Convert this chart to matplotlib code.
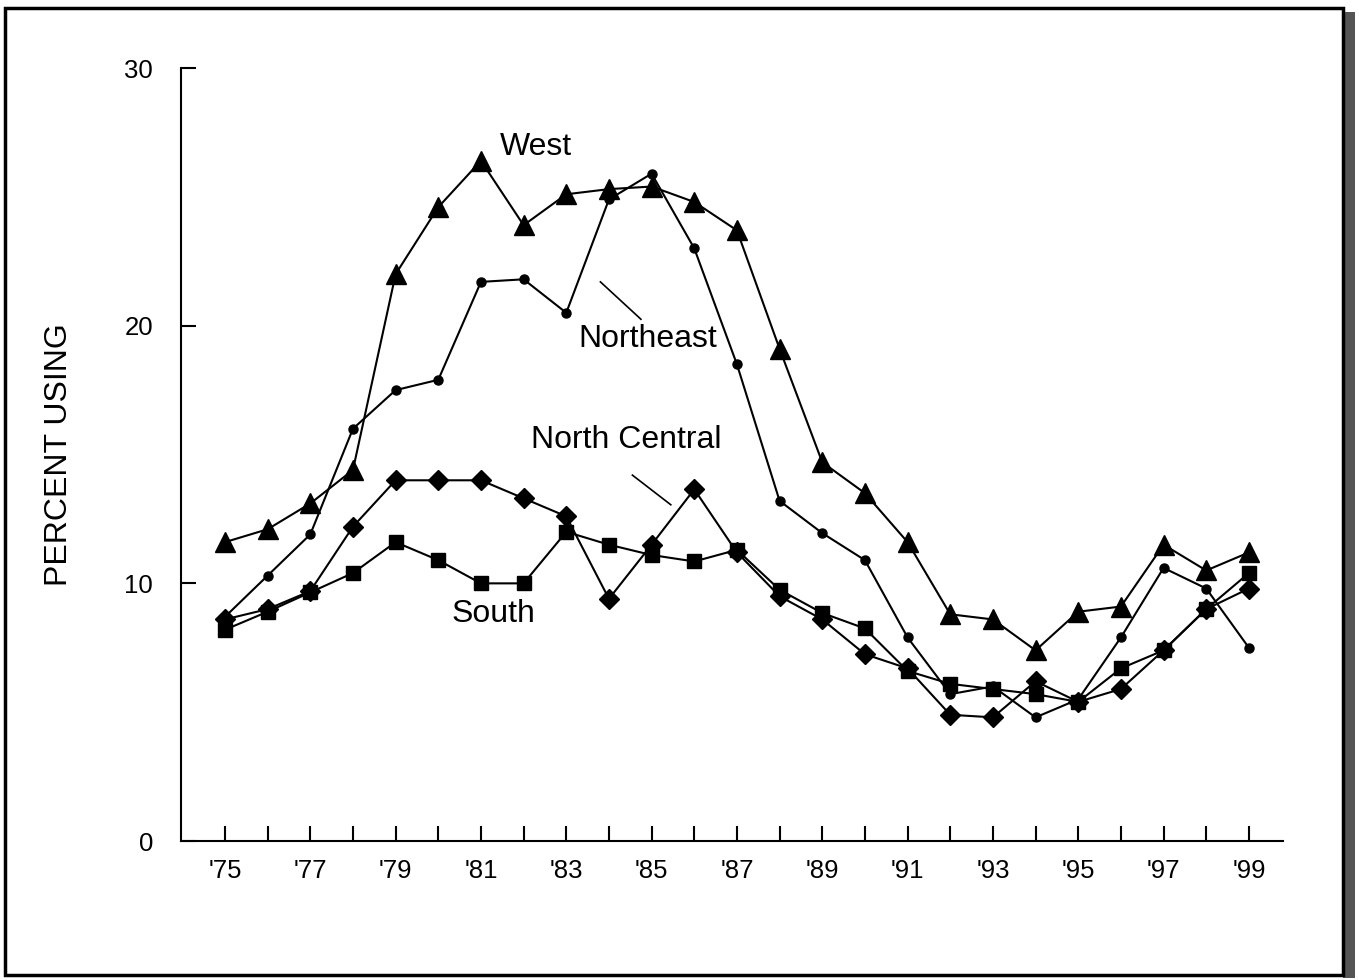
import matplotlib.pyplot as plt
from matplotlib.patches import Rectangle

plt.rcParams['font.family'] = ['Liberation Sans', 'DejaVu Sans']

annees = list(range(1975, 2000))
etiquettes = ["'75", "'77", "'79", "'81", "'83", "'85", "'87", "'89", "'91",
              "'93", "'95", "'97", "'99"]

ouest = [11.6, 12.1, 13.1, 14.4, 22.0, 24.6, 26.4, 23.9, 25.1, 25.3, 25.4, 24.8,
         23.7, 19.1, 14.7, 13.5, 11.6, 8.8, 8.6, 7.4, 8.9, 9.1, 11.5, 10.5, 11.2]
nord_est = [8.7, 10.3, 11.9, 16.0, 17.5, 17.9, 21.7, 21.8, 20.5, 24.9, 25.9, 23.0,
            18.5, 13.2, 11.95, 10.9, 7.9, 5.7, 6.0, 4.8, 5.5, 7.9, 10.6, 9.8, 7.5]
nord_central = [8.6, 9.0, 9.7, 12.2, 14.0, 14.0, 14.0, 13.3, 12.6, 9.4, 11.5, 13.65,
                11.2, 9.5, 8.6, 7.25, 6.7, 4.9, 4.8, 6.2, 5.4, 5.9, 7.4, 9.0, 9.8]
sud = [8.2, 8.9, 9.65, 10.4, 11.6, 10.9, 10.0, 10.0, 12.0, 11.5, 11.1, 10.85,
       11.3, 9.75, 8.85, 8.25, 6.6, 6.1, 5.9, 5.7, 5.4, 6.7, 7.4, 9.0, 10.4]

fig = plt.figure(figsize=(13.59, 9.80), dpi=100)
ax = fig.add_axes([0.1332, 0.1418, 0.8109, 0.7888])

style = dict(color='black', linewidth=1.5)
ax.plot(annees, ouest, marker='^', markersize=15, **style)
ax.plot(annees, nord_est, marker='o', markersize=6.5, **style)
ax.plot(annees, nord_central, marker='D', markersize=10, **style)
ax.plot(annees, sud, marker='s', markersize=10, **style)

ax.set_xlim(1973.97, 1999.8)
ax.set_ylim(0, 30)
for cote in ['top', 'right']:
    ax.spines[cote].set_visible(False)
for cote in ['left', 'bottom']:
    ax.spines[cote].set_linewidth(1.5)

ax.set_yticks([0, 10, 20, 30])
ax.set_xticks(annees)
ax.set_xticklabels([etiquettes[i // 2] if i % 2 == 0 else '' for i in range(len(annees))])
ax.tick_params(axis='both', direction='in', length=11, width=1.5, labelsize=18.5)
ax.tick_params(axis='y', pad=20)
ax.tick_params(axis='x', pad=13)

ax.set_ylabel("PERCENT USING", fontsize=23, labelpad=36)

# etiquettes des series
ax.text(1982.3, 26.95, "West", fontsize=23, ha='center', va='center')
ax.text(1984.9, 19.5, "Northeast", fontsize=23, ha='center', va='center')
ax.plot([1983.8, 1984.75], [21.7, 20.25], color='black', linewidth=1.2)
ax.text(1984.4, 15.55, "North Central", fontsize=23, ha='center', va='center')
ax.plot([1984.55, 1985.45], [14.2, 13.05], color='black', linewidth=1.2)
ax.text(1981.3, 8.8, "South", fontsize=23, ha='center', va='center')

# cadre avec ombre
fig.patches.append(Rectangle((1343 / 1359, 2 / 980), 12 / 1359, 966 / 980,
                             transform=fig.transFigure, facecolor='#555555',
                             edgecolor='none'))
fig.patches.append(Rectangle((5 / 1359, 5 / 980), 1338 / 1359, 967 / 980,
                             transform=fig.transFigure, facecolor='none',
                             edgecolor='black', linewidth=2.5))

fig.savefig("out.png", dpi=100)
